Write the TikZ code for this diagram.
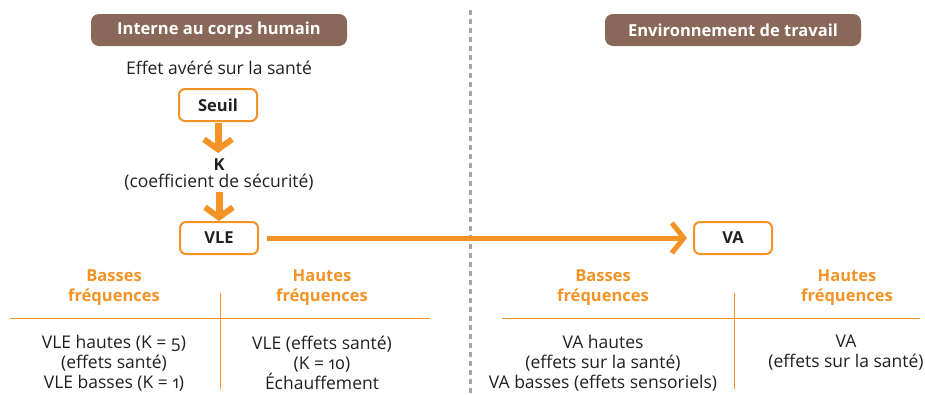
\documentclass[tikz,border=0pt]{standalone}
\usepackage{fontspec}
\setmainfont{Open Sans}[Numbers=OldStyle]
\usetikzlibrary{arrows.meta}
\definecolor{orng}{HTML}{F39325}
\definecolor{brwn}{HTML}{8A6859}
\definecolor{dashc}{HTML}{B0A099}
\definecolor{txt}{HTML}{231F20}
\tikzset{
  hdr/.style={fill=brwn,rounded corners=8pt,minimum width=256pt,minimum height=32pt,text=white,font=\fontsize{16.5}{18}\selectfont\bfseries,inner sep=0pt},
  obox/.style={draw=orng,line width=2pt,rounded corners=6pt,minimum width=78pt,minimum height=32pt,font=\fontsize{16.5}{18}\selectfont\bfseries,text=txt,inner sep=0pt},
  body/.style={font=\fontsize{17.5}{20}\selectfont,text=txt,align=center,inner sep=0pt},
  ohead/.style={font=\fontsize{16.5}{20}\selectfont\bfseries,text=orng,align=center,inner sep=0pt},
  tline/.style={draw=orng,line width=1pt},
  varrow/.style={draw=orng,line width=7pt,-{Straight Barb[length=10pt,width=28pt,line width=6pt]}},
  harrow/.style={draw=orng,line width=5pt,-{Straight Barb[length=12pt,width=30pt,line width=5pt]}},
}
\begin{document}
\begin{tikzpicture}[x=1pt,y=-1pt]
\useasboundingbox (0,0) rectangle (925,394);
\draw[dashc,line width=3pt,dash pattern=on 5pt off 4pt] (470,10) -- (470,394);
\node[hdr] (h1) at (219,30) {Interne au corps humain};
\node[hdr] (h2) at (733,30) {Environnement de travail};
\node[body] (eff) at (219,68) {Effet avéré sur la santé};
\node[obox] (seuil) at (218,105) {Seuil};
\node[body,font=\fontsize{16.5}{18}\selectfont\bfseries] (k) at (219,165) {K};
\node[body] (coef) at (219,182) {(coefficient de sécurité)};
\node[obox] (vle) at (219,238) {VLE};
\node[obox] (va) at (733,238) {VA};
\draw[varrow] (seuil.south) ++(0,1) coordinate (s1) -- ++(0,30);
\draw[varrow] (coef.south) ++(0,2) -- (vle.north);
\draw[harrow] (vle.east) ++(8,0) -- ([xshift=-6pt]va.west);
% left table
\node[ohead] (lb) at (114,288) {Basses\\fréquences};
\node[ohead] (lh) at (322,288) {Hautes\\fréquences};
\coordinate (l1) at (10,318); \coordinate (l2) at (430,318);
\coordinate (lv1) at (220,293); \coordinate (lv2) at (220,389);
\draw[tline] (l1) -- (l2);
\draw[tline] (lv1) -- (lv2);
\node[body] (lbb) at (114,363) {VLE hautes (K = 5)\\(effets santé)\\VLE basses (K = 1)};
\node[body] (lhb) at (322,363) {VLE (effets santé)\\(K = 10)\\Échauffement};
% right table
\node[ohead] (rb) at (603,288) {Basses\\fréquences};
\node[ohead] (rh) at (847,288) {Hautes\\fréquences};
\coordinate (r1) at (502,318); \coordinate (r2) at (920,318);
\coordinate (rv1) at (734,293); \coordinate (rv2) at (734,389);
\draw[tline] (r1) -- (r2);
\draw[tline] (rv1) -- (rv2);
\node[body] (rbb) at (603,363) {VA hautes\\(effets sur la santé)\\VA basses (effets sensoriels)};
\node[body] (rhb) at (846,353) {VA\\(effets sur la santé)};
\end{tikzpicture}
\end{document}
